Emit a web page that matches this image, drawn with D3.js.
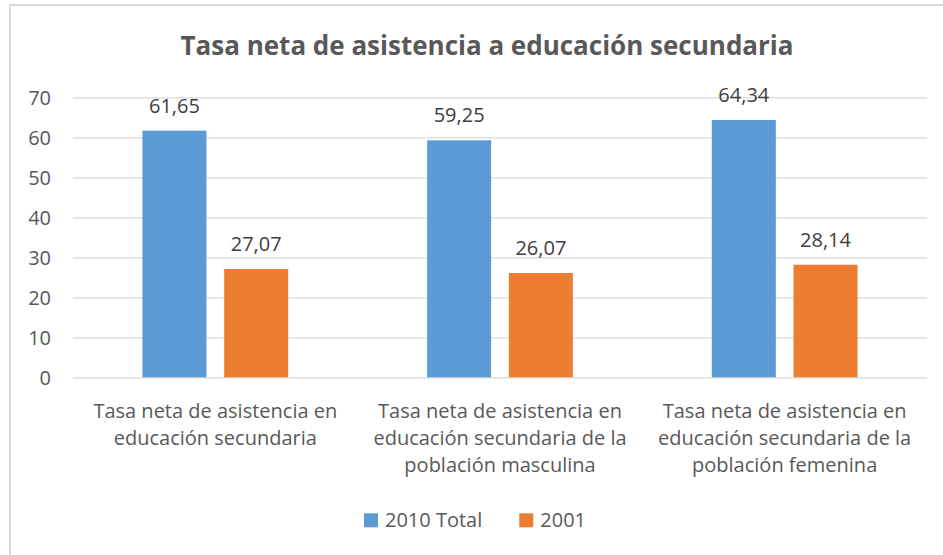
<!DOCTYPE html>
<html>
<head>
<meta charset="utf-8">
<script src="https://cdn.jsdelivr.net/npm/d3@7"></script>
<style>
  body { margin: 0; background: #fff; }
  svg { display: block; font-family: "Open Sans", sans-serif; }
</style>
</head>
<body>
<script>
let categories = [
    "Tasa neta de asistencia en educación secundaria",
    "Tasa neta de asistencia en educación secundaria de la población masculina",
    "Tasa neta de asistencia en educación secundaria de la población femenina"
];
let series = ["2010 Total", "2001"];
let values2010 = [61.65, 59.25, 64.34];
let values2001 = [27.07, 26.07, 28.14];
let yTicks = [0, 10, 20, 30, 40, 50, 60, 70];
let colors = ["#5B9BD5", "#ED7D31"];

let width = 943, height = 555;
let plot = {left: 73, right: 927, top: 97.3, bottom: 377.3};

let svg = d3.select("body").append("svg")
    .attr("width", width)
    .attr("height", height);

// chart area border (only top/left visible)
svg.append("rect")
    .attr("x", 10)
    .attr("y", 5)
    .attr("width", 1000)
    .attr("height", 600)
    .attr("fill", "none")
    .attr("stroke", "#D9D9D9")
    .attr("stroke-width", 2);

// title
svg.append("text")
    .attr("x", 487)
    .attr("y", 55)
    .attr("text-anchor", "middle")
    .style("font-size", "26px")
    .style("font-weight", "bold")
    .style("fill", "#595959")
    .text("Tasa neta de asistencia a educación secundaria");

let x0 = d3.scaleBand()
    .domain(categories)
    .range([plot.left, plot.right]);

let groupW = x0.bandwidth() * 0.512;
let x1 = d3.scaleBand()
    .domain(series)
    .range([(x0.bandwidth() - groupW) / 2, (x0.bandwidth() + groupW) / 2])
    .paddingInner(0.217);

let y = d3.scaleLinear()
    .domain([0, 70])
    .range([plot.bottom, plot.top]);

// gridlines + y axis labels
let yAxis = d3.axisLeft(y)
    .tickValues(yTicks)
    .tickSize(-(plot.right - plot.left))
    .tickPadding(22)
    .tickFormat(d3.format("d"));

let gy = svg.append("g")
    .attr("transform", "translate(" + plot.left + ",0)")
    .call(yAxis);
gy.select(".domain").remove();
gy.selectAll(".tick line")
    .attr("stroke", "#D9D9D9")
    .attr("stroke-width", 1.3);
gy.selectAll(".tick text")
    .attr("fill", "#595959")
    .attr("dy", "0.36em")
    .style("font-size", "20px")
    .style("font-family", "Open Sans, sans-serif");

// bars
let rows = categories.map(function(c, i) {
    return {cat: c, vals: [values2010[i], values2001[i]]};
});

let group = svg.selectAll(".grp")
    .data(rows)
    .enter().append("g")
    .attr("class", "grp")
    .attr("transform", function(d) { return "translate(" + x0(d.cat) + ",0)"; });

let cells = group.selectAll("g.cell")
    .data(function(d) { return d.vals.map(function(v, j) { return {s: series[j], v: v, j: j}; }); })
    .enter().append("g")
    .attr("class", "cell");

cells.append("rect")
    .attr("x", function(d) { return x1(d.s); })
    .attr("width", x1.bandwidth())
    .attr("y", function(d) { return y(d.v); })
    .attr("height", function(d) { return y(0) - y(d.v); })
    .attr("fill", function(d) { return colors[d.j]; });

let fmt = function(v) { return d3.format(".2f")(v).replace(".", ","); };
cells.append("text")
    .attr("x", function(d) { return x1(d.s) + x1.bandwidth() / 2; })
    .attr("y", function(d) { return y(d.v) - 18; })
    .attr("text-anchor", "middle")
    .style("font-size", "20px")
    .style("fill", "#404040")
    .text(function(d) { return fmt(d.v); });

// category labels, wrapped
let maxW = x0.bandwidth() - 10;
let lineH = 27.3;
categories.forEach(function(c) {
    let t = svg.append("text")
        .attr("text-anchor", "middle")
        .style("font-size", "20px")
        .style("fill", "#595959");
    let words = c.split(" ");
    let lines = [];
    let cur = [];
    let probe = t.append("tspan");
    words.forEach(function(w) {
        let test = cur.concat([w]).join(" ");
        probe.text(test);
        if (probe.node().getComputedTextLength() > maxW && cur.length) {
            lines.push(cur.join(" "));
            cur = [w];
        } else {
            cur.push(w);
        }
    });
    lines.push(cur.join(" "));
    probe.remove();
    lines.forEach(function(l, i) {
        t.append("tspan")
            .attr("x", x0(c) + x0.bandwidth() / 2)
            .attr("y", 417.7 + i * lineH)
            .text(l);
    });
});

// legend
let legend = svg.append("g");
let lx = 0;
series.forEach(function(s, i) {
    let g = legend.append("g").attr("transform", "translate(" + lx + ",0)");
    g.append("rect")
        .attr("x", 0)
        .attr("y", -14)
        .attr("width", 14)
        .attr("height", 14)
        .attr("fill", colors[i]);
    let tx = g.append("text")
        .attr("x", 21)
        .attr("y", 0)
        .style("font-size", "20px")
        .style("fill", "#595959")
        .text(s);
    lx += 21 + tx.node().getComputedTextLength() + 37;
});
let lw = legend.node().getBBox().width;
legend.attr("transform", "translate(" + (475 - lw / 2) + ",527.3)");
</script>
</body>
</html>
